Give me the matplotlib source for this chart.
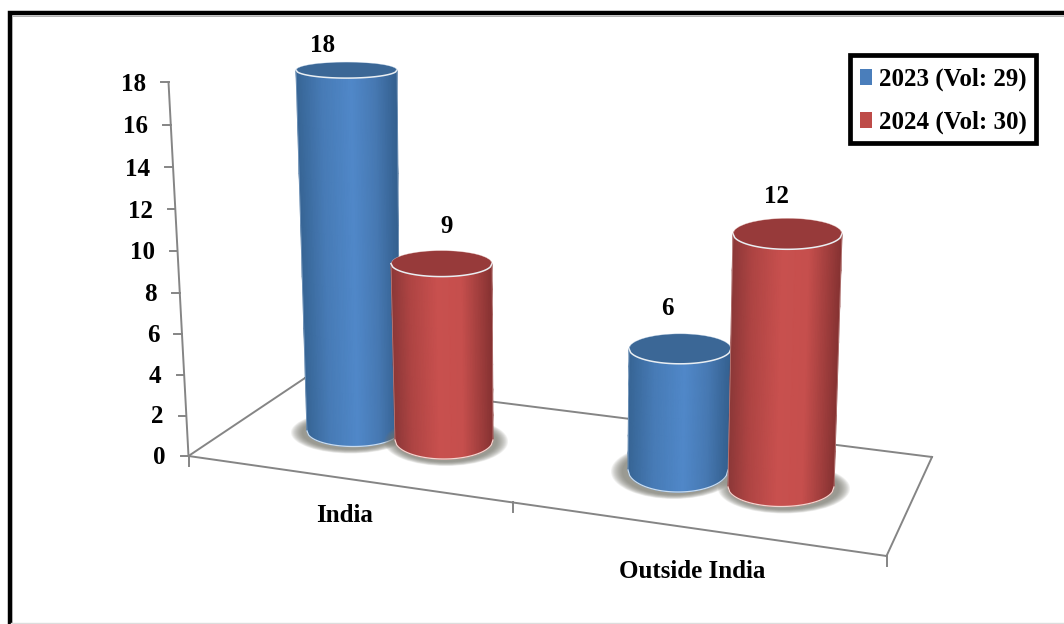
import numpy as np
import matplotlib
matplotlib.use("Agg")
import matplotlib.pyplot as plt
from matplotlib.colors import LinearSegmentedColormap
from matplotlib.patches import Ellipse, Patch, Rectangle

categories = ["India", "Outside India"]
series_names = ["2023 (Vol: 29)", "2024 (Vol: 30)"]
values_2023 = [18, 6]
values_2024 = [9, 12]
y_ticks = [0, 2, 4, 6, 8, 10, 12, 14, 16, 18]

plt.rcParams["font.family"] = ["Liberation Serif", "DejaVu Serif"]
FS = 18
W, H = 1064, 624
fig = plt.figure(figsize=(W / 100, H / 100), dpi=100, facecolor="white")
ax = fig.add_axes([0, 0, 1, 1])
ax.set_xlim(0, W)
ax.set_ylim(H, 0)
ax.axis("off")

# picture frame
ax.plot([9.5, 9.5, W], [H, 13, 13], color="black", lw=3.2, solid_joinstyle="miter", zorder=1)
ax.plot([11.5, 11.5, W], [H, 15.5, 15.5], color="#b0b0b0", lw=0.7, zorder=1)
ax.plot([11, W], [622.8, 622.8], color="#dddddd", lw=1.0, zorder=1)

# projected chart frame
AXC = "#858585"
O = (188.5, 456.0)
BL = (305.0, 378.0)
BR = (932.0, 457.0)
FR = (886.5, 556.0)
for a, b in [(O, BL), (BL, BR), (BR, FR), (FR, O)]:
    ax.plot([a[0], b[0]], [a[1], b[1]], color=AXC, lw=1.4, zorder=2)
for fx in (0.0, 0.4648, 1.0):
    tx = O[0] + fx * (FR[0] - O[0])
    ty = O[1] + fx * (FR[1] - O[1])
    ax.plot([tx, tx], [ty, ty + 10], color=AXC, lw=1.4, zorder=2)


def axis_x(v):
    return 188.5 - 20.0 * v / 18


def axis_y(v):
    return 456.0 - 20.13 * v - 0.036 * v ** 2


ax.plot([axis_x(0), axis_x(18)], [axis_y(0), axis_y(18)], color=AXC, lw=1.4, zorder=2)
for v in y_ticks:
    ax.plot([axis_x(v) - 7.5, axis_x(v)], [axis_y(v)] * 2, color=AXC, lw=1.4, zorder=2)
    ax.text(axis_x(v) - 22.5, axis_y(v) + 1 + 0.08 * v, str(v), ha="right", va="center",
            fontsize=FS, fontweight="bold", color="black", zorder=6)

blue_cm = LinearSegmentedColormap.from_list(
    "b", [(0, "#376595"), (0.25, "#477bb6"), (0.55, "#5088c9"), (0.78, "#4779b3"), (1, "#34608f")])
red_cm = LinearSegmentedColormap.from_list(
    "r", [(0, "#8c3838"), (0.18, "#ae4443"), (0.45, "#c8504e"), (0.7, "#c64f4d"), (0.88, "#a03e3d"), (1, "#863232")])

# perspective layout of each cylinder: top half-width/centre, base half-width/centre,
# base line, vertical pixels per unit, ellipse half-heights
geo_2023 = [
    dict(tx=346.5, trx=50.5, bx=353.5, brx=46.5, by=431, u=20.05, try_=8, bry=15.5),
    dict(tx=680, trx=51, bx=678, brx=50, by=470, u=20.2, try_=15, bry=22),
]
geo_2024 = [
    dict(tx=441.5, trx=50.5, bx=444, brx=49, by=440, u=19.6, try_=13, bry=19),
    dict(tx=787.5, trx=54.5, bx=781, brx=53, by=487, u=21.1, try_=15.5, bry=19.5),
]


def cylinder(value, g, cmap, top_c, rim, z, shift):
    ty = g["by"] - g["u"] * value
    # soft ground shadow
    n = 12
    for i in range(n):
        f = 1 - i / n
        ax.add_patch(Ellipse((g["bx"] + shift, g["by"] + 1.5), 2 * (g["brx"] + 1 + 12 * f),
                             2 * (g["bry"] + 1 + 4.5 * f), fc="#77776e", ec="none",
                             alpha=0.1, zorder=z))
    s = np.linspace(-1, 1, 61)
    arc = np.sqrt(1 - s ** 2)
    t = np.linspace(0, 1, 8)
    X = np.array([(g["tx"] + (g["bx"] - g["tx"]) * q) + s * (g["trx"] + (g["brx"] - g["trx"]) * q) for q in t])
    Y = np.array([(ty + g["try_"] * arc) * (1 - q) + (g["by"] + g["bry"] * arc) * q for q in t])
    C = np.tile((s + 1) / 2, (len(t), 1))
    ax.pcolormesh(X, Y, C, cmap=cmap, vmin=0, vmax=1, shading="gouraud", zorder=z + 0.1)
    ax.add_patch(Ellipse((g["tx"], ty), 2 * g["trx"], 2 * g["try_"], fc=top_c, ec="none", zorder=z + 0.2))
    # pale rims
    ax.plot(g["tx"] + s * g["trx"], ty + g["try_"] * arc, color="#e9eef2", lw=1.1, zorder=z + 0.3)
    ax.plot(g["bx"] + s * g["brx"], g["by"] + g["bry"] * arc, color=rim, lw=0.9, zorder=z + 0.3)
    ax.plot(g["tx"] + s * g["trx"], ty - g["try_"] * arc, color=rim, lw=0.4, alpha=0.6, zorder=z + 0.3)
    for side in (-1, 1):
        ax.plot([g["tx"] + side * g["trx"], g["bx"] + side * g["brx"]], [ty, g["by"]],
                color=rim, lw=0.5, alpha=0.5, zorder=z + 0.3)
    return ty


z = 3
for i in range(len(categories)):
    ty = cylinder(values_2023[i], geo_2023[i], blue_cm, "#3b6796", "#c9dcf0", z, (-3, -4)[i])
    dx = (-23.5, -12.5)[i]
    ax.text(geo_2023[i]["tx"] + dx, ty - (24.5 if i == 0 else 40.5), str(values_2023[i]), ha="center", va="center",
            fontsize=FS, fontweight="bold", color="black", zorder=6)
    ty = cylinder(values_2024[i], geo_2024[i], red_cm, "#973a3a", "#f3d5d0", z + 1, (2, 3)[i])
    dx = (5.5, -11.5)[i]
    ax.text(geo_2024[i]["tx"] + dx, ty - (37.5 if i == 0 else 37), str(values_2024[i]), ha="center", va="center",
            fontsize=FS, fontweight="bold", color="black", zorder=6)
    z += 2

ax.text(344.5, 515, categories[0], ha="center", va="center", fontsize=FS, fontweight="bold", zorder=6)
ax.text(692, 572, categories[1], ha="center", va="center", fontsize=FS, fontweight="bold", zorder=6)

# legend: own box plus real legend entries
ax.add_patch(Rectangle((849.5, 55), 186, 88, fc="white", ec="black", lw=3.4,
                       joinstyle="miter", zorder=7))
handles = [Patch(fc="#4a7ebb", ec="none"), Patch(fc="#be4b48", ec="none")]
leg = ax.legend(handles, series_names, loc="upper left",
                bbox_to_anchor=(860 / W, 1 - 67.5 / H), bbox_transform=ax.transAxes,
                prop={"family": "Liberation Serif", "weight": "bold", "size": FS},
                handlelength=0.46, handleheight=0.62, handletextpad=0.3,
                labelspacing=0.8, borderpad=0, borderaxespad=0, frameon=False)
leg.set_zorder(8)

fig.savefig("out.png", dpi=100, facecolor="white")
